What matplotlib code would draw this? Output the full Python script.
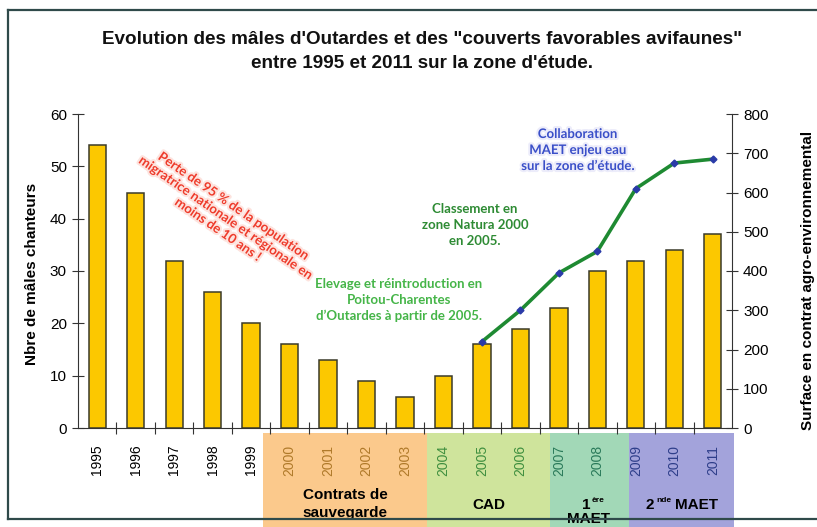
import matplotlib
matplotlib.use("Agg")
import matplotlib.pyplot as plt
import matplotlib.patheffects as pe
from matplotlib.patches import Rectangle
from matplotlib.lines import Line2D

plt.rcParams['font.family'] = ['Liberation Sans', 'DejaVu Sans']

# data
years = [str(y) for y in range(1995, 2012)]
males = [54, 45, 32, 26, 20, 16, 13, 9, 6, 10, 16, 19, 23, 30, 32, 34, 37]
surface_years = ['2005', '2006', '2007', '2008', '2009', '2010', '2011']
surface = [220, 300, 395, 450, 610, 675, 685]

# colour of each year label (follows the contract periods)
year_colors = ['black'] * 5 + ['#b07a2a'] * 4 + ['#3f8f3f'] * 3 + ['#2a7a5a'] * 2 + ['#2e3e8a'] * 3

W, H = 817, 527
fig = plt.figure(figsize=(W / 100, H / 100), dpi=100)
ax = fig.add_axes([78 / W, 1 - 428 / H, (732 - 78) / W, (428 - 114) / H])
ax2 = ax.twinx()

x = list(range(len(years)))
ax.bar(x, males, width=0.45, color='#fcc800', edgecolor='#3a3a2a', linewidth=1.1, zorder=3)

sx = [years.index(y) for y in surface_years]
ax2.plot(sx, surface, color='#1e8a32', lw=2.6, zorder=4,
         marker='D', markersize=3.5, markerfacecolor='#2a3aa8', markeredgecolor='#2a3aa8')

ax.set_xlim(-0.5, len(years) - 0.5)
ax.set_ylim(0, 60)
ax2.set_ylim(0, 800)
ax.set_yticks(range(0, 61, 10))
ax2.set_yticks(range(0, 801, 100))

ax.set_xticks([i - 0.5 for i in range(1, len(years))], minor=False)
ax.set_xticklabels([])
ax.set_xticks(x, minor=True)
ax.set_xticklabels(years, minor=True, rotation=90, fontsize=10)
ax.tick_params(axis='x', which='minor', length=0, pad=12)
ax.tick_params(axis='x', which='major', direction='inout', length=8, color='#333333')
for lab, c in zip(ax.get_xticklabels(minor=True), year_colors):
    lab.set_color(c)

ax.tick_params(axis='y', direction='inout', length=8, labelsize=11, pad=4, color='#333333')
ax2.tick_params(axis='y', direction='inout', length=8, labelsize=11, pad=4, color='#333333')

for a in (ax, ax2):
    a.spines['top'].set_visible(False)
    for s in a.spines.values():
        s.set_color('#333333')
ax.spines['right'].set_visible(False)
ax2.spines['left'].set_visible(False)
ax2.spines['bottom'].set_visible(False)
ax.patch.set_visible(False)

# contract periods under the axis
bands = [(4.3, 8.56, '#fbc98c'), (8.56, 11.76, '#cfe49c'),
         (11.76, 13.81, '#a2d8b7'), (13.81, 16.54, '#a3a3db')]
for x0, x1, col in bands:
    ax.add_patch(Rectangle((x0, -0.4), x1 - x0, 0.4 - 0.016, transform=ax.get_xaxis_transform(),
                           facecolor=col, edgecolor='none', clip_on=False, zorder=0))

fs = 11
fig.text(345 / W, 1 - 504 / H, 'Contrats de\nsauvegarde', ha='center', va='center',
         fontsize=fs, fontweight='bold', linespacing=1.35)
fig.text(489 / W, 1 - 505 / H, 'CAD', ha='center', va='center', fontsize=fs, fontweight='bold')
t1 = fig.text(582 / W, 1 - 505 / H, '1', ha='left', va='center', fontsize=fs, fontweight='bold')
ax.annotate('ère', xy=(1, 1), xycoords=t1, xytext=(1, 1), textcoords='offset points',
            ha='left', va='top', fontsize=6, fontweight='bold')
fig.text(589 / W, 1 - 519 / H, 'MAET', ha='center', va='center', fontsize=fs, fontweight='bold')
t2 = fig.text(646 / W, 1 - 505 / H, '2', ha='left', va='center', fontsize=fs, fontweight='bold')
ax.annotate('nde', xy=(1, 1), xycoords=t2, xytext=(1, 1), textcoords='offset points',
            ha='left', va='top', fontsize=6, fontweight='bold')
fig.text(675 / W, 1 - 505 / H, 'MAET', ha='left', va='center', fontsize=fs, fontweight='bold')

# title and axis labels
fig.text(422 / W, 1 - 40 / H, 'Evolution des mâles d\'Outardes et des "couverts favorables avifaunes"',
         ha='center', va='center', fontsize=13.6, fontweight='bold', color='#111111')
fig.text(422 / W, 1 - 63 / H, "entre 1995 et 2011 sur la zone d'étude.",
         ha='center', va='center', fontsize=13.6, fontweight='bold', color='#111111')
fig.text(32 / W, 1 - 274 / H, 'Nbre de mâles chanteurs', rotation=90, ha='center', va='center',
         fontsize=11, fontweight='bold')
fig.text(808 / W, 1 - 430 / H, 'Surface en contrat agro-environnemental', rotation=90,
         ha='center', va='bottom', fontsize=11, fontweight='bold')

# annotations
ann = dict(family=['Lato', 'DejaVu Sans'], fontweight='bold', fontsize=9.5, ha='center', va='center')
fig.text(226 / W, 1 - 218 / H,
         'Perte de 95 % de la population\nmigratrice nationale et régionale en\nmoins de 10 ans !',
         rotation=-34.5, rotation_mode='anchor', color='#ee3b2b', linespacing=1.2,
         path_effects=[pe.withStroke(linewidth=3, foreground='#fde3de')], **ann)
fig.text(399 / W, 1 - 300 / H,
         "Elevage et réintroduction en\nPoitou-Charentes\nd’Outardes à partir de 2005.",
         color='#45b548', linespacing=1.4, **ann)
fig.text(475 / W, 1 - 225 / H, 'Classement en\nzone Natura 2000\nen 2005.',
         color='#2e8b34', linespacing=1.4, **ann)
fig.text(578 / W, 1 - 150 / H, 'Collaboration\nMAET enjeu eau\nsur la zone d’étude.',
         color='#3a4fc8', linespacing=1.4,
         path_effects=[pe.withStroke(linewidth=3, foreground='#ececfa')], **ann)

# frame around the chart
fc = '#2f4a4a'
fig.add_artist(Line2D([8 / W, 8 / W], [1 - 10 / H, 1 - 519 / H], color=fc, lw=1.6, zorder=5))
fig.add_artist(Line2D([8 / W, 1], [1 - 10 / H, 1 - 10 / H], color=fc, lw=1.6, zorder=5))
fig.add_artist(Line2D([8 / W, 1], [1 - 519 / H, 1 - 519 / H], color=fc, lw=1.6, zorder=5))

fig.savefig('out.png', dpi=100)
